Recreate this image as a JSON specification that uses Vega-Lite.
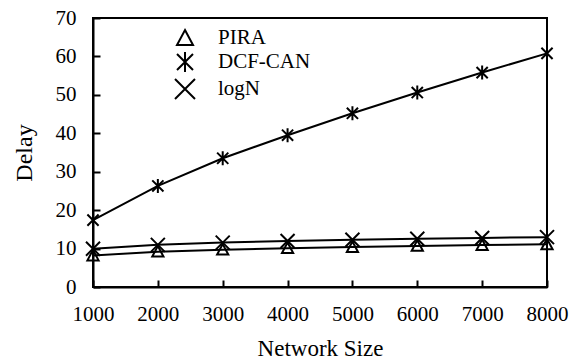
{
  "$schema": "https://vega.github.io/schema/vega-lite/v6.json",
  "width": 454,
  "height": 269,
  "autosize": "none",
  "padding": {"left": 93, "top": 18, "right": 36, "bottom": 77},
  "background": "white",
  "config": {
    "view": {"stroke": "black", "strokeWidth": 2}
  },
  "data": {
    "values": [
      {"n": 1000, "series": "PIRA", "delay": 8.2},
      {"n": 2000, "series": "PIRA", "delay": 9.2},
      {"n": 3000, "series": "PIRA", "delay": 9.7},
      {"n": 4000, "series": "PIRA", "delay": 10.1},
      {"n": 5000, "series": "PIRA", "delay": 10.4},
      {"n": 6000, "series": "PIRA", "delay": 10.7},
      {"n": 7000, "series": "PIRA", "delay": 10.9},
      {"n": 8000, "series": "PIRA", "delay": 11.1},
      {"n": 1000, "series": "DCF-CAN", "delay": 17.4},
      {"n": 2000, "series": "DCF-CAN", "delay": 26.3},
      {"n": 3000, "series": "DCF-CAN", "delay": 33.5},
      {"n": 4000, "series": "DCF-CAN", "delay": 39.5},
      {"n": 5000, "series": "DCF-CAN", "delay": 45.2},
      {"n": 6000, "series": "DCF-CAN", "delay": 50.6},
      {"n": 7000, "series": "DCF-CAN", "delay": 55.8},
      {"n": 8000, "series": "DCF-CAN", "delay": 60.8},
      {"n": 1000, "series": "logN", "delay": 9.97},
      {"n": 2000, "series": "logN", "delay": 10.97},
      {"n": 3000, "series": "logN", "delay": 11.55},
      {"n": 4000, "series": "logN", "delay": 11.97},
      {"n": 5000, "series": "logN", "delay": 12.29},
      {"n": 6000, "series": "logN", "delay": 12.55},
      {"n": 7000, "series": "logN", "delay": 12.77},
      {"n": 8000, "series": "logN", "delay": 12.97}
    ]
  },
  "encoding": {
    "x": {
      "field": "n",
      "type": "quantitative",
      "scale": {"domain": [1000, 8000], "nice": false, "zero": false},
      "axis": {
        "tickCount": 7,
        "format": "d",
        "grid": false,
        "domainColor": "black",
        "domainWidth": 2,
        "tickColor": "black",
        "tickWidth": 2,
        "tickSize": -7,
        "labelPadding": 23,
        "labelFlush": false,
        "labelFont": "Liberation Serif",
        "labelFontSize": 21,
        "labelColor": "black",
        "title": "Network Size",
        "titleFont": "Liberation Serif",
        "titleFontWeight": "normal",
        "titleColor": "black",
        "titleFontSize": 23,
        "titlePadding": 13
      }
    },
    "y": {
      "field": "delay",
      "type": "quantitative",
      "scale": {"domain": [0, 70], "nice": false},
      "axis": {
        "tickCount": 8,
        "grid": false,
        "domainColor": "black",
        "domainWidth": 2,
        "tickColor": "black",
        "tickWidth": 2,
        "tickSize": -7,
        "labelPadding": 24,
        "labelFont": "Liberation Serif",
        "labelFontSize": 21,
        "labelColor": "black",
        "title": "Delay",
        "titleFont": "Liberation Serif",
        "titleFontWeight": "normal",
        "titleColor": "black",
        "titleFontSize": 24,
        "titlePadding": 19
      }
    }
  },
  "layer": [
    {
      "mark": {"type": "line", "color": "black", "strokeWidth": 2},
      "encoding": {"detail": {"field": "series"}}
    },
    {
      "mark": {"type": "point", "filled": false, "color": "black", "strokeWidth": 2, "opacity": 1, "size": 196},
      "encoding": {
        "shape": {
          "field": "series",
          "type": "nominal",
          "scale": {
            "domain": ["PIRA", "DCF-CAN", "logN"],
            "range": [
              "M0,-0.8L0.8,0.7L-0.8,0.7Z",
              "M-0.8,-0.8L0.8,0.8M-0.8,0.8L0.8,-0.8M0,-1L0,1",
              "M-1,-1L1,1M-1,1L1,-1"
            ]
          },
          "legend": {
            "title": null,
            "orient": "none",
            "legendX": 81,
            "legendY": 9,
            "symbolSize": 400,
            "symbolStrokeWidth": 2,
            "symbolStrokeColor": "black",
            "labelFont": "Liberation Serif",
            "labelFontSize": 21,
            "labelColor": "black",
            "labelOffset": 22,
            "rowPadding": -1,
            "encode": {
              "symbols": {
                "update": {
                  "shape": {"signal": "datum.value === 'PIRA' ? 'M-2.8,0L-0.3,0M0.3,0L2.8,0M0,-0.55L0.55,0.45L-0.55,0.45Z' : datum.value === 'DCF-CAN' ? 'M-2.8,0L2.8,0M-0.55,-0.55L0.55,0.55M-0.55,0.55L0.55,-0.55M0,-0.7L0,0.7' : 'M-2.8,0L2.8,0M-0.7,-0.55L0.7,0.55M-0.7,0.55L0.7,-0.55'"}
                }
              }
            }
          }
        }
      }
    }
  ]
}
